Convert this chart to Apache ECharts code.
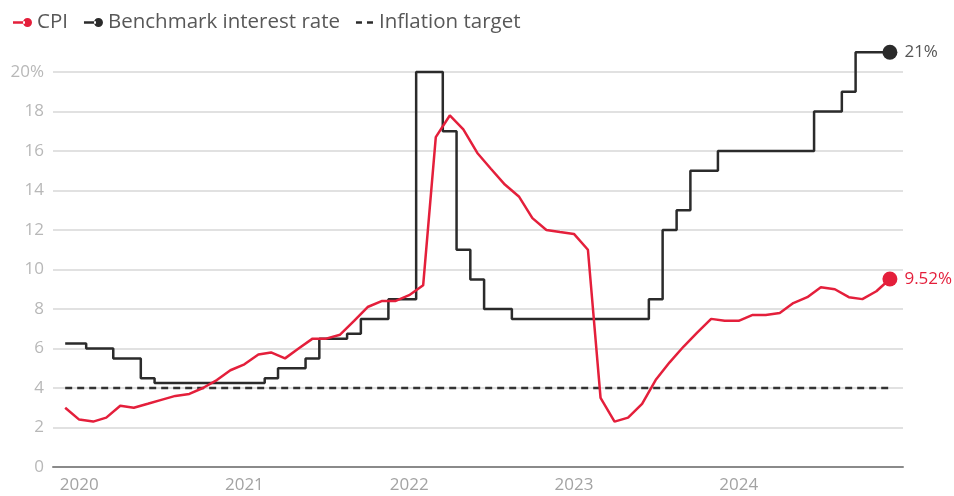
<!DOCTYPE html>
<html>
<head>
<meta charset="utf-8">
<script src="https://cdn.jsdelivr.net/npm/echarts@6/dist/echarts.min.js"></script>
<style>html,body{margin:0;padding:0;background:#fff;}#c{width:954px;height:496px;}</style>
</head>
<body>
<div id="c"></div>
<script>
// Monthly observation dates (first of month), Dec 2019 .. Dec 2024
const months = [
  '2019-12-01',
  '2020-01-01','2020-02-01','2020-03-01','2020-04-01','2020-05-01','2020-06-01','2020-07-01','2020-08-01','2020-09-01','2020-10-01','2020-11-01','2020-12-01',
  '2021-01-01','2021-02-01','2021-03-01','2021-04-01','2021-05-01','2021-06-01','2021-07-01','2021-08-01','2021-09-01','2021-10-01','2021-11-01','2021-12-01',
  '2022-01-01','2022-02-01','2022-03-01','2022-04-01','2022-05-01','2022-06-01','2022-07-01','2022-08-01','2022-09-01','2022-10-01','2022-11-01','2022-12-01',
  '2023-01-01','2023-02-01','2023-03-01','2023-04-01','2023-05-01','2023-06-01','2023-07-01','2023-08-01','2023-09-01','2023-10-01','2023-11-01','2023-12-01',
  '2024-01-01','2024-02-01','2024-03-01','2024-04-01','2024-05-01','2024-06-01','2024-07-01','2024-08-01','2024-09-01','2024-10-01','2024-11-01','2024-12-01'
];
// Consumer price index, % y/y
const cpi = [
  3.0,
  2.4, 2.3, 2.5, 3.1, 3.0, 3.2, 3.4, 3.6, 3.7, 4.0, 4.4, 4.9,
  5.2, 5.7, 5.8, 5.5, 6.0, 6.5, 6.5, 6.7, 7.4, 8.1, 8.4, 8.4,
  8.7, 9.2, 16.7, 17.8, 17.1, 15.9, 15.1, 14.3, 13.7, 12.6, 12.0, 11.9,
  11.8, 11.0, 3.5, 2.3, 2.5, 3.2, 4.4, 5.3, 6.1, 6.8, 7.5, 7.4,
  7.4, 7.7, 7.7, 7.8, 8.3, 8.6, 9.1, 9.0, 8.6, 8.5, 8.9, 9.52
];
// Benchmark interest rate, %
const rate = [
  6.25,
  6.25, 6.0, 6.0, 5.5, 5.5, 4.5, 4.25, 4.25, 4.25, 4.25, 4.25, 4.25,
  4.25, 4.25, 4.5, 5.0, 5.0, 5.5, 6.5, 6.5, 6.75, 7.5, 7.5, 8.5,
  8.5, 20, 20, 17, 11, 9.5, 8, 8, 7.5, 7.5, 7.5, 7.5,
  7.5, 7.5, 7.5, 7.5, 7.5, 7.5, 8.5, 12, 13, 15, 15, 16,
  16, 16, 16, 16, 16, 16, 18, 18, 19, 21, 21, 21
];
// Inflation target, %
const target = [4];
const yTicks = [0, 2, 4, 6, 8, 10, 12, 14, 16, 18, 20];
const seriesNames = ['CPI', 'Benchmark interest rate', 'Inflation target'];
const endLabels = ['9.52%', '21%'];

const RED = '#e41f3b';
const BLACK = '#2b2b2b';

const pair = (arr) => months.map((m, i) => [m, arr[i]]);
const targetData = months.map(m => [m, target[0]]);
const last = months.length - 1;

const dotIcon = 'path://M0,3.3L12,3.3L12,5.7L0,5.7Z M10,4.5A4.5,4.5 0 1 0 19,4.5A4.5,4.5 0 1 0 10,4.5Z';
const dashIcon = 'path://M0,0L0.01,0L0.01,0.01Z M0,3.3L6,3.3L6,5.7L0,5.7Z M11,3.3L17,3.3L17,5.7L11,5.7Z M17,8.99L17.01,8.99L17.01,9Z';

const chart = echarts.init(document.getElementById('c'), null, {renderer: 'canvas'});
chart.setOption({
  animation: false,
  backgroundColor: '#fff',
  textStyle: {fontFamily: 'Open Sans'},
  grid: {left: 53, right: 51, top: 72, bottom: 29, containLabel: false},
  legend: {
    left: 8, top: 7,
    itemGap: 16,
    itemWidth: 19, itemHeight: 9,
    textStyle: {fontSize: 20.5, color: '#585858', fontFamily: 'Open Sans'},
    data: [
      {name: seriesNames[0], icon: dotIcon, itemStyle: {color: RED}},
      {name: seriesNames[1], icon: dotIcon, itemStyle: {color: BLACK}},
      {name: seriesNames[2], icon: dashIcon, itemStyle: {color: BLACK}}
    ]
  },
  xAxis: {
    type: 'time',
    min: '2019-11-04',
    max: '2024-12-30',
    minInterval: 365 * 86400000,
    maxInterval: 366 * 86400000,
    axisLine: {show: true, lineStyle: {color: '#8a8a8a', width: 2}},
    axisTick: {show: false},
    splitLine: {show: false},
    axisLabel: {
      show: true,
      margin: 10,
      fontSize: 17,
      color: '#a3a3a3',
      fontFamily: 'Open Sans',
      showMinLabel: false,
      showMaxLabel: false,
      formatter: (v) => String(new Date(v).getFullYear())
    }
  },
  yAxis: {
    type: 'value',
    min: yTicks[0],
    max: yTicks[yTicks.length - 1],
    interval: 2,
    axisLine: {show: false},
    axisTick: {show: false},
    splitLine: {lineStyle: {color: '#d7d7d7', width: 1.5}},
    axisLabel: {
      margin: 9,
      fontSize: 17,
      color: '#b8b8b8',
      fontFamily: 'Open Sans',
      formatter: (v) => v === yTicks[yTicks.length - 1] ? v + '%' : String(v)
    }
  },
  series: [
    {
      name: seriesNames[2], type: 'line', data: targetData, symbol: 'none', silent: true,
      lineStyle: {color: '#333', width: 2.5, type: [7, 5]}, z: 2
    },
    {
      name: seriesNames[1], type: 'line', data: pair(rate), step: 'middle', symbol: 'none', clip: false,
      lineStyle: {color: BLACK, width: 2.5}, itemStyle: {color: BLACK}, z: 3
    },
    {
      name: seriesNames[0], type: 'line', data: pair(cpi), symbol: 'none', clip: false,
      lineStyle: {color: RED, width: 2.5}, itemStyle: {color: RED}, z: 4
    },
    {
      type: 'scatter', data: [[months[last], rate[last]]], symbol: 'circle', symbolSize: 15, clip: false,
      itemStyle: {color: BLACK, opacity: 1}, z: 5,
      label: {show: true, position: 'right', distance: 7, formatter: endLabels[1], fontSize: 17, color: '#555', fontFamily: 'Open Sans'}
    },
    {
      type: 'scatter', data: [[months[last], cpi[last]]], symbol: 'circle', symbolSize: 15, clip: false,
      itemStyle: {color: RED, opacity: 1}, z: 5,
      label: {show: true, position: 'right', distance: 7, formatter: endLabels[0], fontSize: 17, color: RED, fontFamily: 'Open Sans'}
    }
  ]
});
</script>
</body>
</html>
